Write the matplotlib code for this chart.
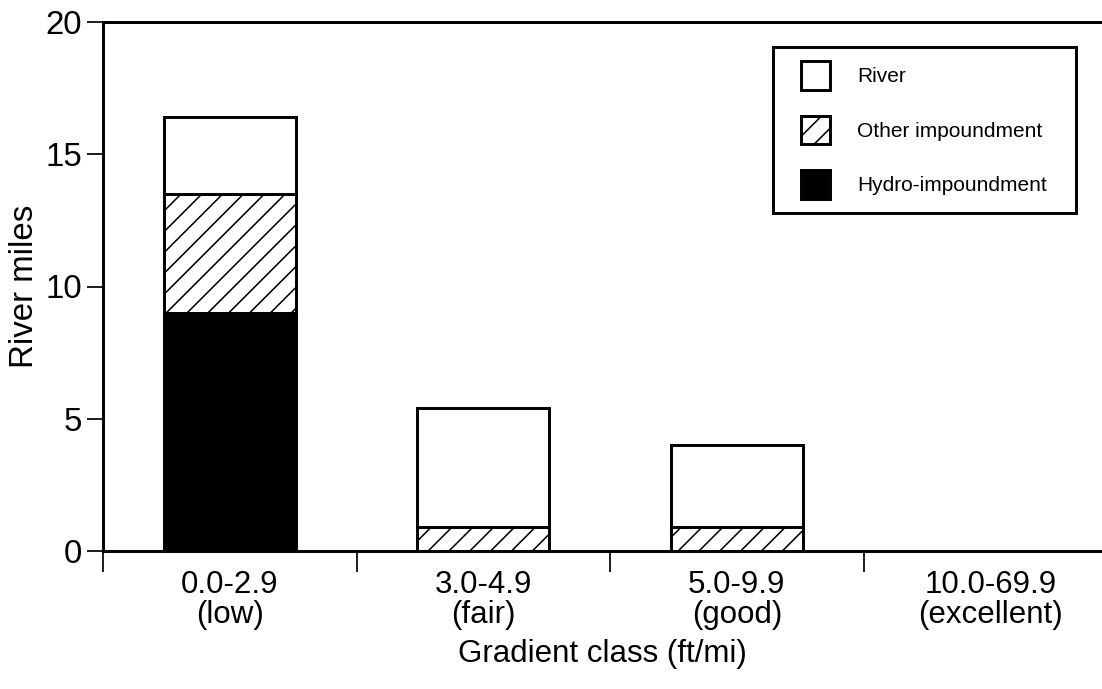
import numpy as np
import matplotlib
matplotlib.use("Agg")
from matplotlib import pyplot as plt
from matplotlib.patches import Patch, Rectangle
from matplotlib.legend_handler import HandlerPatch

plt.rcParams['font.family'] = ['Liberation Sans', 'DejaVu Sans']
plt.rcParams['hatch.linewidth'] = 0.9

categories = ["0.0-2.9\n(low)", "3.0-4.9\n(fair)", "5.0-9.9\n(good)", "10.0-69.9\n(excellent)"]
hydro = [9.0, 0.0, 0.0, 0.0]
other = [4.5, 0.9, 0.9, 0.0]
river = [2.9, 4.5, 3.1, 0.0]

W, H = 1102, 689
dpi = 125
fig = plt.figure(figsize=(W / dpi, H / dpi), dpi=dpi)
ax = fig.add_axes([103 / W, 1 - 551 / H, 1 - 103 / W, (551 - 22) / H])

x = np.arange(len(categories))
w = 0.52
lw = 1.7
hydro = np.array(hydro)
other = np.array(other)
river = np.array(river)
shown = (hydro + other + river) > 0

ax.bar(x[shown], hydro[shown], w, color='black', edgecolor='black', linewidth=lw)
ax.bar(x[shown], other[shown], w, bottom=hydro[shown], color='white', edgecolor='black',
       hatch='//', linewidth=lw)
ax.bar(x[shown], river[shown], w, bottom=(hydro + other)[shown], color='white',
       edgecolor='black', linewidth=lw)

ax.set_xlim(-0.5, 3.44)
ax.set_ylim(0, 20)
ax.set_yticks([0, 5, 10, 15, 20])
ax.set_xticks(np.arange(-0.5, 3, 1))
ax.set_xticklabels([])
ax.set_xticks(x, minor=True)
ax.set_xticklabels(categories, minor=True, fontsize=18, linespacing=1.0)
ax.tick_params(axis='x', which='minor', length=0, pad=11)
ax.tick_params(axis='x', which='major', length=12, width=1.0, direction='out')
ax.tick_params(axis='y', length=9, width=1.0, labelsize=19, pad=3)

for s in ['left', 'top', 'bottom']:
    ax.spines[s].set_linewidth(lw)
ax.spines['right'].set_visible(False)

ax.set_ylabel("River miles", fontsize=19)
ax.yaxis.set_label_coords((40 - 103) / (W - 103), 0.5)
ax.set_xlabel("Gradient class (ft/mi)", fontsize=18, labelpad=5)


# square legend keys
def square(legend, orig_handle, xdescent, ydescent, width, height, fontsize):
    return Rectangle((-xdescent, -ydescent), height, height)


handles = [Patch(facecolor='white', edgecolor='black', linewidth=lw, label='River'),
           Patch(facecolor='white', edgecolor='black', hatch='//', linewidth=lw, label='Other impoundment'),
           Patch(facecolor='black', edgecolor='black', linewidth=lw, label='Hydro-impoundment')]
leg = ax.legend(handles=handles, loc='upper left',
                bbox_to_anchor=(801 / W, 1 - 61 / H), bbox_transform=fig.transFigure,
                fontsize=12, frameon=False,
                handlelength=1.76, handleheight=1.76, handletextpad=0.93,
                labelspacing=1.23, borderpad=0, borderaxespad=0,
                handler_map={Patch: HandlerPatch(patch_func=square)})
fig.add_artist(Rectangle((773 / W, 1 - 213 / H), (1076 - 773) / W, (213 - 47) / H,
                         transform=fig.transFigure, facecolor='none', edgecolor='black',
                         linewidth=lw))

fig.savefig("out.png", dpi=dpi)
